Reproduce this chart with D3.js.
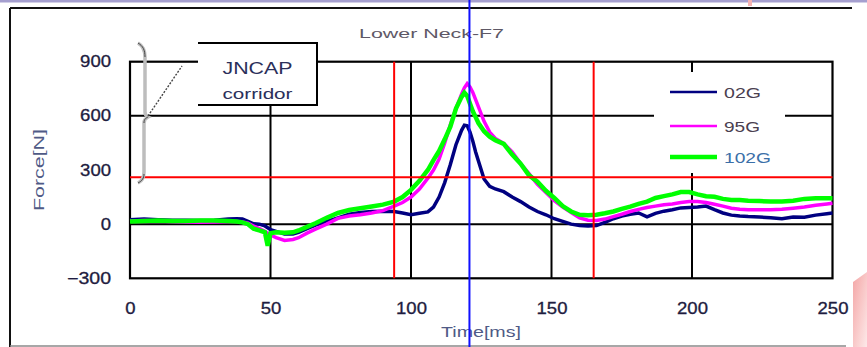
<!DOCTYPE html>
<html>
<head>
<meta charset="utf-8">
<script src="https://cdn.jsdelivr.net/npm/d3@7"></script>
<style>
  html, body { margin: 0; padding: 0; background: #ffffff; }
  svg { display: block; font-family: "Liberation Sans", Arial, sans-serif; }
</style>
</head>
<body>
<svg id="chart" width="867" height="347"></svg>
<script>
// Sample times (ms)
const timeMs = [0,5,10,15,20,25,30,35,38,40,42,44,46,48,49,50,52,55,58,60,63,66,70,74,78,82,86,90,94,97,100,103,106,108,110,112,114,116,118,119,120,121,122,123,124,126,128,130,133,136,139,142,145,148,151,154,157,160,163,166,169,172,175,178,181,184,187,190,193,196,199,202,205,208,211,214,217,220,224,228,232,236,240,244,248,250];

// Lower neck force (N) per test
const force02G = [25,28,25,22,22,20,22,28,30,28,15,2,0,-10,-20,-30,-40,-55,-55,-45,-25,-5,15,35,55,65,70,72,70,62,52,60,68,95,150,230,330,440,520,548,545,510,460,400,350,250,210,195,180,150,125,95,70,52,30,15,0,-8,-10,-8,10,30,45,55,62,40,60,72,80,90,92,95,100,80,62,50,45,42,40,35,30,40,38,50,58,62];
const force95G = [18,20,18,15,12,10,12,15,15,12,5,-10,-25,-40,-50,-60,-75,-90,-85,-75,-50,-28,0,32,45,52,62,75,100,120,150,195,255,300,360,450,550,640,720,755,778,760,730,690,650,570,510,475,447,400,336,280,220,175,130,95,65,35,22,20,28,42,55,70,82,92,100,108,112,120,125,125,120,110,100,88,82,80,80,80,82,88,95,105,112,116];
const force102G = [15,18,20,18,18,20,20,18,15,10,0,-25,-35,-45,-120,-50,-45,-48,-45,-35,-15,5,35,62,78,88,98,108,125,150,190,240,300,355,405,470,540,640,705,728,710,667,625,593,560,515,485,465,445,385,335,270,235,185,145,100,70,52,50,52,60,70,85,97,112,125,145,155,165,178,178,165,155,152,140,134,134,130,128,125,125,130,140,143,143,143];

const seriesNames = ["02G", "95G", "102G"];
const seriesColors = ["#000080", "#ff00ff", "#00ff00"];
const seriesWidths = [3.5, 3.5, 4.5];

const xTicks = [0, 50, 100, 150, 200, 250];
const yTicks = [-300, 0, 300, 600, 900];
const yGridValues = [0, 600];

// Reference markers
const redTimes = [94, 165];
const redForce = 260;
const blueTime = 120.8;

const svg = d3.select("#chart");
const W = 867, H = 347;
const plot = { left: 130, right: 832.5, top: 61.7, bottom: 278.3 };

const x = d3.scaleLinear().domain([0, 250]).range([plot.left, plot.right]);
const y = d3.scaleLinear().domain([-300, 900]).range([plot.bottom, plot.top]);

// Page decorations
svg.append("rect").attr("x", 0).attr("y", 0).attr("width", W).attr("height", 2.5).attr("fill", "#a59fcf");
svg.append("rect").attr("x", 748).attr("y", 0).attr("width", 4).attr("height", 6).attr("fill", "#f5b3b3");
const defs = svg.append("defs");
const grad = defs.append("linearGradient").attr("id", "pinkFade").attr("x1", "0").attr("y1", "0").attr("x2", "1").attr("y2", "1");
grad.append("stop").attr("offset", "0").attr("stop-color", "#f4a6a6");
grad.append("stop").attr("offset", "1").attr("stop-color", "#fde9e9");
svg.append("polygon").attr("points", "853,282 867,272 867,347 853,347").attr("fill", "url(#pinkFade)");

// Outer frame
const frame = svg.append("g").attr("fill", "none");
frame.append("line").attr("x1", 10).attr("y1", 8).attr("x2", 852).attr("y2", 8).attr("stroke", "#111").attr("stroke-width", 2);
frame.append("line").attr("x1", 10).attr("y1", 8).attr("x2", 10).attr("y2", 347).attr("stroke", "#111").attr("stroke-width", 2);
frame.append("line").attr("x1", 10).attr("y1", 346).attr("x2", 846).attr("y2", 346).attr("stroke", "#8a8a8a").attr("stroke-width", 1.5);

// Grid
const grid = svg.append("g").attr("stroke", "#000").attr("stroke-width", 2);
grid.selectAll("line.v").data(xTicks.filter(t => t > 0 && t < 250)).join("line")
  .attr("class", "v")
  .attr("x1", d => x(d)).attr("x2", d => x(d))
  .attr("y1", plot.top).attr("y2", plot.bottom);
grid.selectAll("line.h").data(yGridValues).join("line")
  .attr("class", "h")
  .attr("x1", plot.left).attr("x2", plot.right)
  .attr("y1", d => y(d)).attr("y2", d => y(d));

// Plot border
svg.append("rect")
  .attr("x", plot.left).attr("y", plot.top)
  .attr("width", plot.right - plot.left).attr("height", plot.bottom - plot.top)
  .attr("fill", "none").attr("stroke", "#000").attr("stroke-width", 2.2);

// Data lines
const forces = [force02G, force95G, force102G];
const line = d3.line().x(d => x(d[0])).y(d => y(d[1]));
forces.forEach((vals, i) => {
  svg.append("path")
    .datum(timeMs.map((t, k) => [t, vals[k]]))
    .attr("d", line)
    .attr("fill", "none")
    .attr("stroke", seriesColors[i])
    .attr("stroke-width", seriesWidths[i])
    .attr("stroke-linejoin", "miter");
});

// Red reference lines
const red = svg.append("g").attr("stroke", "#ff0000").attr("stroke-width", 2);
red.selectAll("line.rv").data(redTimes).join("line")
  .attr("class", "rv")
  .attr("x1", d => x(d)).attr("x2", d => x(d))
  .attr("y1", plot.top).attr("y2", plot.bottom);
red.append("line")
  .attr("x1", plot.left).attr("x2", plot.right)
  .attr("y1", y(redForce)).attr("y2", y(redForce));

// Axes (labels only; gridlines are drawn above)
const tickColor = "#1e1c40";
const xAxis = svg.append("g").attr("transform", `translate(0,${plot.bottom})`)
  .call(d3.axisBottom(x).tickValues(xTicks).tickSize(0).tickPadding(24));
xAxis.select(".domain").remove();
xAxis.selectAll("text")
  .attr("font-size", 16).attr("fill", tickColor).attr("font-family", "Liberation Sans, Arial, sans-serif")
  .attr("stroke", tickColor).attr("stroke-width", 0.3)
  .attr("textLength", d => String(d).length * 10.3)
  .attr("lengthAdjust", "spacingAndGlyphs");

const yAxis = svg.append("g").attr("transform", `translate(${plot.left},0)`)
  .call(d3.axisLeft(y).tickValues(yTicks).tickSize(0).tickPadding(19)
    .tickFormat(d => d < 0 ? "\u2212" + Math.abs(d) : String(d)));
yAxis.select(".domain").remove();
yAxis.selectAll("text")
  .attr("font-size", 16).attr("fill", tickColor).attr("font-family", "Liberation Sans, Arial, sans-serif")
  .attr("stroke", tickColor).attr("stroke-width", 0.3)
  .attr("textLength", d => d < 0 ? 44 : String(d).length * 10.3)
  .attr("lengthAdjust", "spacingAndGlyphs");

// Titles
svg.append("text").text("Lower Neck-F7")
  .attr("x", 431.5).attr("y", 38).attr("text-anchor", "middle")
  .attr("font-size", 13).attr("fill", "#5e5866")
  .attr("textLength", 145).attr("lengthAdjust", "spacingAndGlyphs");
svg.append("text").text("Time[ms]")
  .attr("x", 481).attr("y", 337).attr("text-anchor", "middle")
  .attr("font-size", 15).attr("fill", "#4f5a86")
  .attr("textLength", 80).attr("lengthAdjust", "spacingAndGlyphs");
svg.append("text").text("Force[N]")
  .attr("transform", "translate(44,170) rotate(-90)").attr("text-anchor", "middle")
  .attr("font-size", 15).attr("fill", "#4f5a86")
  .attr("textLength", 82).attr("lengthAdjust", "spacingAndGlyphs");

// Corridor callout
svg.append("rect").attr("x", 198).attr("y", 43).attr("width", 119).attr("height", 62).attr("fill", "#fff");
svg.append("path").attr("d", "M198,43 H317 V105 H198").attr("fill", "none").attr("stroke", "#000").attr("stroke-width", 2);
svg.append("text").text("JNCAP").attr("x", 257.5).attr("y", 74).attr("text-anchor", "middle")
  .attr("font-size", 16).attr("fill", "#2b2f5a").attr("textLength", 70).attr("lengthAdjust", "spacingAndGlyphs");
svg.append("text").text("corridor").attr("x", 257.5).attr("y", 99).attr("text-anchor", "middle")
  .attr("font-size", 15).attr("fill", "#2b2f5a").attr("textLength", 70).attr("lengthAdjust", "spacingAndGlyphs");

// Brace and leader
svg.append("path")
  .attr("d", "M138,43 C143,46 145,50 145,57 L145,112 C145,115 146,116 148,117 C146,118 144,119 144,123 L144,172 C144,178 142,181 138,183")
  .attr("fill", "none").attr("stroke", "#bdbdbd").attr("stroke-width", 3.5);
svg.append("path")
  .attr("d", "M138,43 C143,46 145,50 145,57 M148,117 C146,118 144,119 144,123 M144,174 C144,178 142,181 138,183")
  .attr("fill", "none").attr("stroke", "#444").attr("stroke-width", 1);
svg.append("line").attr("x1", 148).attr("y1", 116).attr("x2", 182).attr("y2", 66)
  .attr("stroke", "#444").attr("stroke-width", 1.4).attr("stroke-dasharray", "2,1.5");

// Blue marker across the whole page
svg.append("line")
  .attr("x1", x(blueTime)).attr("x2", x(blueTime))
  .attr("y1", 0).attr("y2", H)
  .attr("stroke", "#1010ff").attr("stroke-width", 2);

// Legend
const legend = svg.append("g");
legend.append("rect").attr("x", 654).attr("y", 72).attr("width", 131).attr("height", 101).attr("fill", "#fff");
const legendY = [92, 126, 157];
const legendTextW = [37, 36, 47];
const legendLineW = [2.5, 2.5, 4.5];
seriesNames.forEach((name, i) => {
  legend.append("line")
    .attr("x1", 670).attr("x2", 717)
    .attr("y1", legendY[i]).attr("y2", legendY[i])
    .attr("stroke", seriesColors[i]).attr("stroke-width", legendLineW[i]);
  legend.append("text").text(name)
    .attr("x", 724).attr("y", legendY[i] + 5.5)
    .attr("font-size", 14).attr("fill", i === 2 ? "#3b6fa8" : "#4a4050")
    .attr("textLength", legendTextW[i]).attr("lengthAdjust", "spacingAndGlyphs");
});
</script>
</body>
</html>
